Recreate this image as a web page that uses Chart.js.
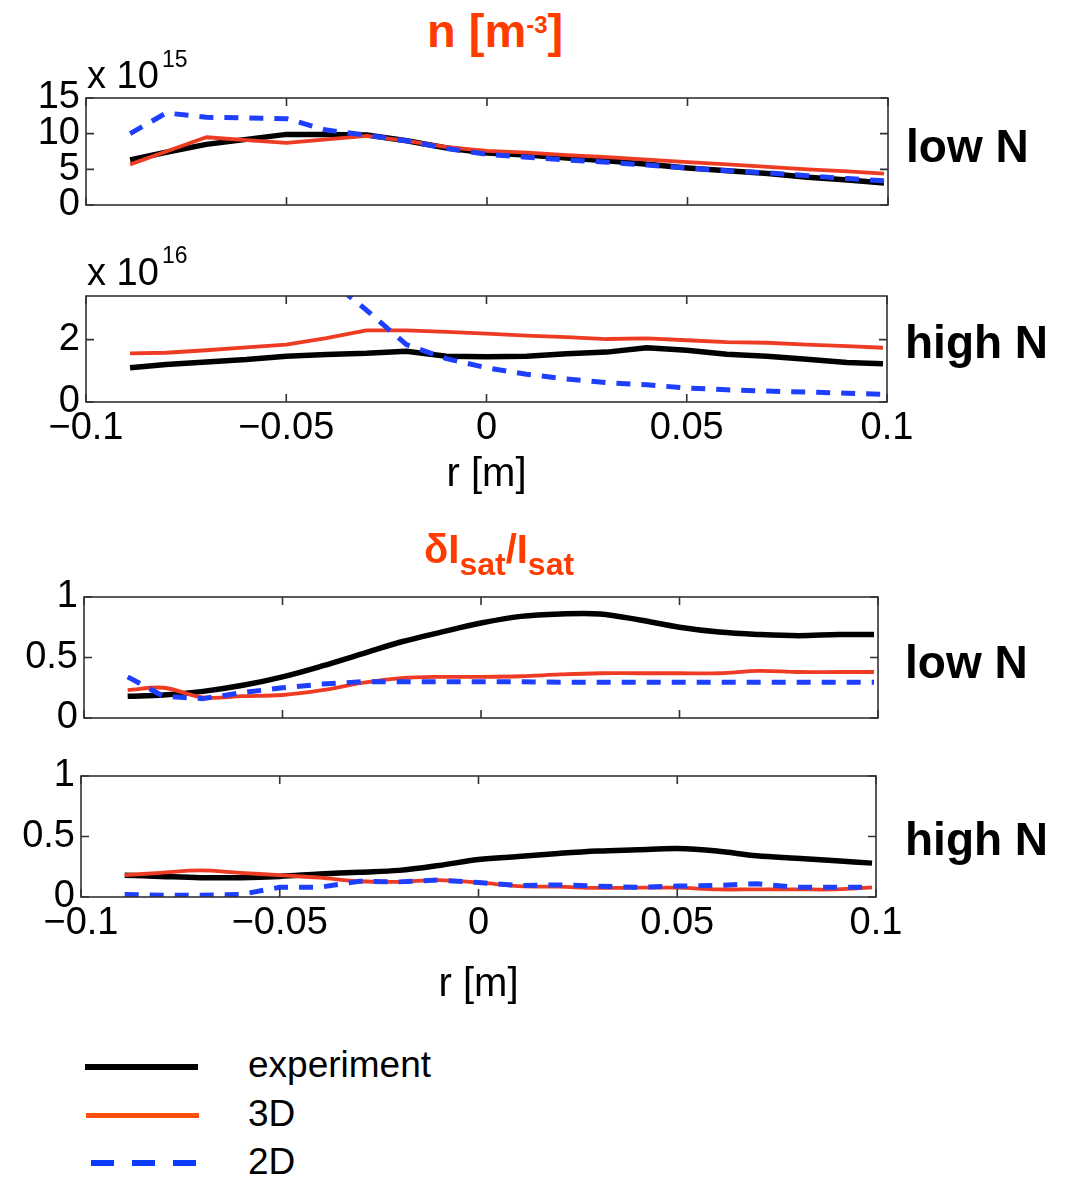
<!DOCTYPE html>
<html>
<head>
<meta charset="utf-8">
<title>n and dIsat/Isat profiles</title>
<script src="https://cdn.jsdelivr.net/npm/chart.js@4.4.1/dist/chart.umd.min.js"></script>
<style>
body{margin:0;background:#fff;}
#page{position:relative;width:1071px;height:1177px;overflow:hidden;font-family:"Liberation Sans",Arial,sans-serif;color:#000;}
canvas{position:absolute;left:0;}
.t{position:absolute;white-space:nowrap;line-height:1;}
.ttl{font-weight:bold;color:#ff3c00;}
.side{font-weight:bold;font-size:46px;}
.lg{position:absolute;}
</style>
</head>
<body>
<div id="page">
<canvas id="c1"></canvas>
<canvas id="c2"></canvas>
<canvas id="c3"></canvas>
<canvas id="c4"></canvas>

<div class="t ttl" style="left:427px;top:7px;font-size:47px;">n [m<span style="font-size:24px;position:relative;top:-14px;">-3</span>]</div>
<div class="t ttl" style="left:424px;top:529px;font-size:40px;">&delta;I<span style="font-size:32px;position:relative;top:12px;">sat</span>/I<span style="font-size:32px;position:relative;top:12px;">sat</span></div>

<div class="t" style="left:87px;top:56px;font-size:38px;">x 10</div>
<div class="t" style="left:162px;top:48px;font-size:23px;">15</div>
<div class="t" style="left:87px;top:253px;font-size:38px;">x 10</div>
<div class="t" style="left:162px;top:244px;font-size:23px;">16</div>

<div class="t side" style="left:906px;top:123px;">low N</div>
<div class="t side" style="left:905px;top:319px;">high N</div>
<div class="t side" style="left:905px;top:639px;">low N</div>
<div class="t side" style="left:905px;top:816px;">high N</div>

<div class="lg" style="left:85px;top:1064px;width:113px;height:6px;background:#000;"></div>
<div class="lg" style="left:86px;top:1113px;width:113px;height:5px;background:#ff4f0a;"></div>
<div class="lg" style="left:91px;top:1160px;width:106px;height:6px;background:repeating-linear-gradient(to right,#0a3cff 0 23px,transparent 23px 41px);"></div>
<div class="t" style="left:248px;top:1046px;font-size:37px;">experiment</div>
<div class="t" style="left:248px;top:1095px;font-size:37px;">3D</div>
<div class="t" style="left:248px;top:1143px;font-size:37px;">2D</div>
</div>

<script>
// radial positions [m]
const rPos = [-0.089,-0.08,-0.07,-0.06,-0.05,-0.04,-0.03,-0.02,-0.01,0,0.01,0.02,0.03,0.04,0.05,0.06,0.07,0.08,0.09,0.099];

// density, low N  (x 10^15 m^-3)
const nLowExp = [6.3,7.4,8.5,9.2,9.9,9.9,9.8,9.0,8.0,7.3,7.0,6.6,6.2,5.7,5.2,4.8,4.4,3.9,3.5,3.1];
const nLow3D  = [5.7,7.5,9.5,9.1,8.7,9.2,9.7,9.0,8.1,7.6,7.35,7.0,6.7,6.35,6.0,5.7,5.35,5.0,4.7,4.4];
const nLow2D  = [10.0,12.9,12.3,12.2,12.1,10.5,9.8,9.0,7.9,7.1,6.7,6.3,6.0,5.6,5.2,4.8,4.5,4.1,3.7,3.4];

// density, high N  (x 10^16 m^-3)
const nHighExp = [1.1,1.2,1.28,1.36,1.47,1.52,1.56,1.63,1.47,1.45,1.47,1.55,1.6,1.74,1.66,1.53,1.47,1.37,1.27,1.23];
const nHigh3D  = [1.56,1.58,1.66,1.75,1.84,2.05,2.3,2.3,2.25,2.19,2.13,2.08,2.02,2.04,1.98,1.92,1.9,1.84,1.79,1.74];
const nHigh2D  = [6.0,5.6,5.2,4.8,4.4,4.0,2.95,1.84,1.39,1.1,0.89,0.74,0.62,0.55,0.45,0.39,0.35,0.32,0.28,0.25];

// dIsat/Isat, low N
const fLowExp = [0.18,0.19,0.22,0.27,0.34,0.43,0.53,0.63,0.71,0.785,0.84,0.86,0.86,0.81,0.75,0.71,0.69,0.68,0.69,0.69];
const fLow3D  = [0.23,0.25,0.17,0.18,0.19,0.23,0.29,0.33,0.34,0.34,0.345,0.36,0.37,0.37,0.37,0.37,0.39,0.38,0.38,0.38];
const fLow2D  = [0.34,0.18,0.16,0.21,0.25,0.28,0.30,0.30,0.30,0.30,0.30,0.295,0.295,0.295,0.295,0.295,0.295,0.295,0.295,0.295];

// dIsat/Isat, high N
const fHighExp = [0.18,0.17,0.16,0.16,0.17,0.19,0.205,0.22,0.26,0.31,0.335,0.36,0.38,0.39,0.40,0.38,0.34,0.32,0.30,0.28];
const fHigh3D  = [0.18,0.20,0.22,0.20,0.18,0.16,0.13,0.125,0.14,0.12,0.09,0.085,0.075,0.077,0.077,0.063,0.063,0.063,0.063,0.08];
const fHigh2D  = [0.02,0.015,0.015,0.02,0.08,0.08,0.13,0.125,0.14,0.12,0.095,0.1,0.09,0.08,0.09,0.095,0.11,0.08,0.08,0.08];

// tick labels
const rTicks = [-0.1,-0.05,0,0.05,0.1];
const nLowTicks = [0,5,10,15];
const nHighTicks = [0,2];
const fTicks = [0,0.5,1];

Chart.defaults.font.family = '"Liberation Sans", Arial, sans-serif';
Chart.defaults.color = '#000';

const pts = arr => arr.map((v,i)=>({x:rPos[i], y:v}));
const fmt = v => { let a = Math.round(Math.abs(v)*1000)/1000; return (v < -1e-9 ? '\u2212' : '') + a; };

/* frame with inward ticks on all four sides */
const boxTicks = {
  id:'boxTicks',
  afterDatasetsDraw(chart){
    const {ctx, chartArea:a, scales:{x,y}} = chart;
    const tl = 8;
    ctx.save();
    ctx.strokeStyle = '#333';
    ctx.lineWidth = 1.6;
    ctx.strokeRect(a.left, a.top, a.right-a.left, a.bottom-a.top);
    ctx.beginPath();
    x.ticks.forEach(t=>{
      const p = x.getPixelForValue(t.value);
      ctx.moveTo(p,a.bottom); ctx.lineTo(p,a.bottom-tl);
      ctx.moveTo(p,a.top); ctx.lineTo(p,a.top+tl);
    });
    y.ticks.forEach(t=>{
      const p = y.getPixelForValue(t.value);
      ctx.moveTo(a.left,p); ctx.lineTo(a.left+tl,p);
      ctx.moveTo(a.right,p); ctx.lineTo(a.right-tl,p);
    });
    ctx.stroke();
    ctx.restore();
  }
};

function panel(id, area, xH, yMax, yTicks, showX, series, smooth){
  const cv = document.getElementById(id);
  const padTop = 30, padRight = 60;
  const w = area.right + padRight, h = area.bottom - area.top + padTop + xH;
  cv.width = w; cv.height = h;
  cv.style.width = w+'px'; cv.style.height = h+'px';
  cv.style.top = (area.top - padTop)+'px';

  new Chart(cv,{
    type:'line',
    data:{
      datasets:[
        {label:'experiment', data:pts(series[0]), borderColor:'#000', borderWidth:5.5, order:3, tension:smooth},
        {label:'3D', data:pts(series[1]), borderColor:'#ee3b24', borderWidth:3.8, order:2, tension:smooth},
        {label:'2D', data:pts(series[2]), borderColor:'#1f3fff', borderWidth:5, borderDash:[14,11], order:1, clip:0}
      ]
    },
    options:{
      responsive:false,
      animation:false,
      devicePixelRatio:1,
      layout:{padding:{top:padTop, right:padRight, left:0, bottom:0}},
      elements:{point:{radius:0}, line:{tension:0, borderJoinStyle:'round', borderCapStyle:'butt'}},
      plugins:{legend:{display:false}, tooltip:{enabled:false}},
      scales:{
        x:{
          type:'linear', min:-0.1, max:0.1,
          afterBuildTicks:s=>{ s.ticks = rTicks.map(v=>({value:v})); },
          afterFit:s=>{ s.height = xH; },
          grid:{display:false, drawTicks:false},
          border:{display:false},
          ticks:{display:showX, font:{size:38}, padding:4, maxRotation:0, autoSkip:false, callback:v=>fmt(v)},
          title:{display:showX, text:'r [m]', font:{size:40}, padding:{top:4,bottom:4}}
        },
        y:{
          type:'linear', min:0, max:yMax,
          afterBuildTicks:s=>{ s.ticks = yTicks.map(v=>({value:v})); },
          afterFit:s=>{ s.width = area.left; },
          grid:{display:false, drawTicks:false},
          border:{display:false},
          ticks:{font:{size:38}, padding:6, autoSkip:false, callback:v=>fmt(v)}
        }
      }
    },
    plugins:[boxTicks]
  });
}

panel('c1', {left:86, top:98, right:888, bottom:205}, 30, 15, nLowTicks, false, [nLowExp, nLow3D, nLow2D], 0);
panel('c2', {left:86, top:296, right:887, bottom:402}, 101, 3.4, nHighTicks, true, [nHighExp, nHigh3D, nHigh2D], 0);
panel('c3', {left:84, top:597, right:878, bottom:718}, 30, 1, fTicks, false, [fLowExp, fLow3D, fLow2D], 0.35);
panel('c4', {left:81, top:776, right:876, bottom:897}, 116, 1, fTicks, true, [fHighExp, fHigh3D, fHigh2D], 0.35);
</script>
</body>
</html>
